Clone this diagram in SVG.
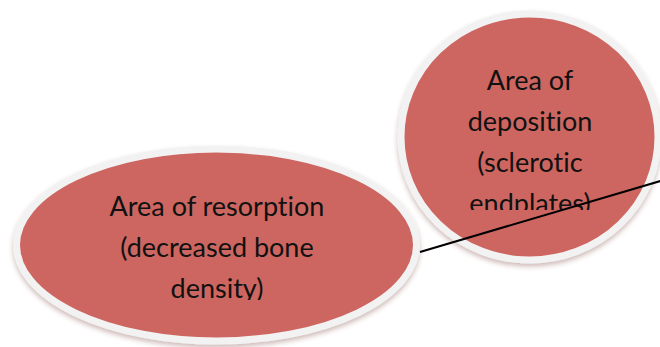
<svg xmlns="http://www.w3.org/2000/svg" width="660" height="347" viewBox="0 0 660 347">
<defs>
<style>
.shape{fill:#cd6660;stroke:#f3f2f2;stroke-width:7;filter:url(#sh);}
.lbl{font-family:Lato,"Open Sans","DejaVu Sans",sans-serif;font-size:27px;fill:#111;text-anchor:middle;font-variant-ligatures:none;font-feature-settings:"liga" 0;}
.conn{stroke:#000;stroke-width:2;fill:none;}
</style>
<filter id="sh" x="-10%" y="-10%" width="120%" height="125%">
<feDropShadow dx="0" dy="3" stdDeviation="2.5" flood-color="#7a3a36" flood-opacity="0.35"/>
</filter>
<clipPath id="clipL"><rect x="0" y="0" width="660" height="300"/></clipPath>
<clipPath id="clipR"><rect x="0" y="0" width="660" height="210"/></clipPath>
</defs>
<rect width="660" height="347" fill="#fff"/>
<g id="node-resorption">
<ellipse class="shape" cx="216.5" cy="245" rx="200" ry="96"/>
<g clip-path="url(#clipL)">
<text class="lbl" x="217" y="216">Area of resorption</text>
<text class="lbl" x="217" y="257">(decreased bone</text>
<text class="lbl" x="217" y="298">density)</text>
</g>
</g>
<g id="node-deposition">
<ellipse class="shape" cx="529.5" cy="137" rx="128.5" ry="123"/>
<g clip-path="url(#clipR)">
<text class="lbl" x="530" y="90">Area of</text>
<text class="lbl" x="530" y="131">deposition</text>
<text class="lbl" x="530" y="172">(sclerotic</text>
<text class="lbl" x="530" y="213">endplates)</text>
</g>
</g>
<g id="connectors">
<line class="conn" x1="420" y1="252" x2="662" y2="180.5"/>
</g>
</svg>
